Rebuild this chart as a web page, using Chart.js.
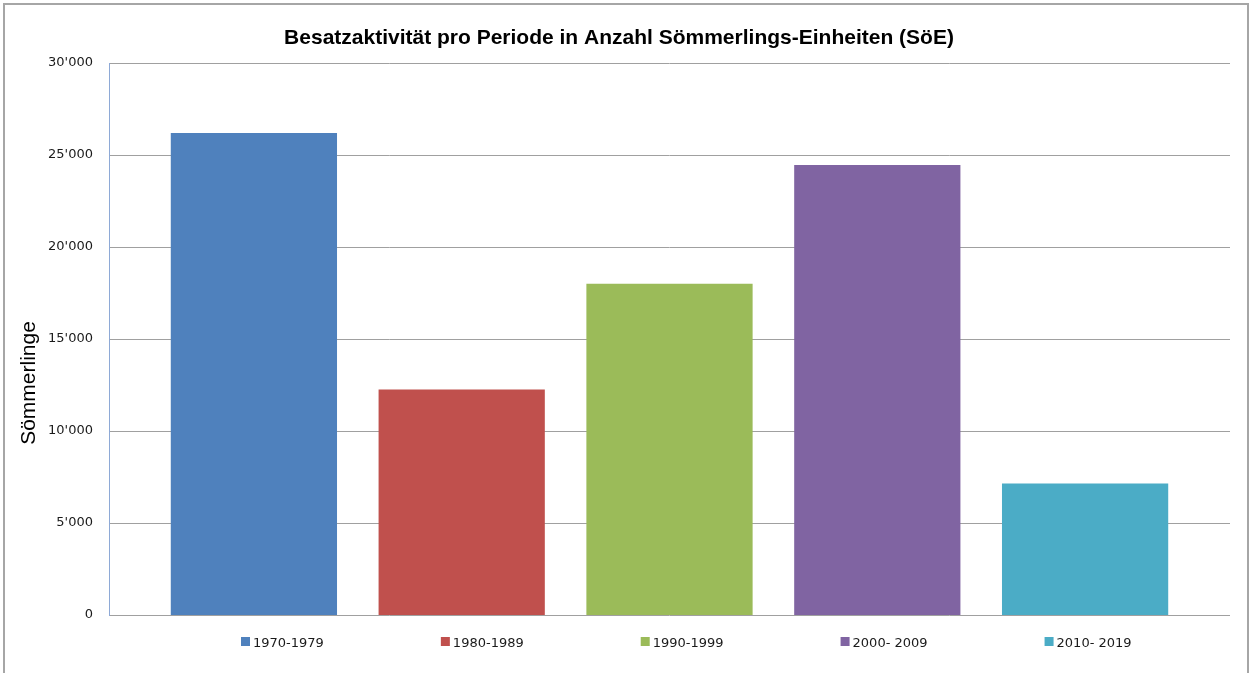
<!DOCTYPE html>
<html>
<head>
<meta charset="utf-8">
<script src="https://cdn.jsdelivr.net/npm/chart.js@4/dist/chart.umd.min.js"></script>
<style>
  html, body { margin: 0; padding: 0; background: #ffffff; }
  #wrap { position: relative; width: 1250px; height: 673px; }
  canvas { display: block; }
</style>
</head>
<body>
<div id="wrap"><canvas id="c" width="1250" height="673"></canvas></div>
<script>
// Periods and stocked juveniles (Sömmerlings-Einheiten)
const categories = ['1970-1979', '1980-1989', '1990-1999', '2000- 2009', '2010- 2019'];
const values = [26200, 12250, 18000, 24450, 7150];
const barColors = ['#4f81bd', '#c0504d', '#9bbb59', '#8064a2', '#4bacc6'];
const yMin = 0;
const yMax = 30000;
const yStep = 5000;

const titleText = 'Besatzaktivität pro Periode in Anzahl Sömmerlings-Einheiten (SöE)';
const yAxisTitle = 'Sömmerlinge';

// plot frame: gridlines run wider than the band the bars occupy
const gridLeft = 109;
const gridRight = 1230;

function fmtThousands(v) {
  return String(Math.round(v)).replace(/\B(?=(\d{3})+(?!\d))/g, "'");
}

// Frame, gridlines, title, rotated axis title and the period legend
const decorations = {
  id: 'decorations',
  beforeDraw(chart) {
    const ctx = chart.ctx;
    ctx.save();
    ctx.fillStyle = '#ffffff';
    ctx.fillRect(0, 0, chart.width, chart.height);
    ctx.strokeStyle = '#a6a6a6';
    ctx.lineWidth = 2;
    ctx.strokeRect(4, 4, 1244, 720);
    ctx.restore();
  },
  beforeDatasetsDraw(chart) {
    const ctx = chart.ctx;
    const y = chart.scales.y;
    ctx.save();
    ctx.lineWidth = 1;
    ctx.strokeStyle = '#a0a0a0';
    y.ticks.forEach(t => {
      const py = Math.round(y.getPixelForValue(t.value)) + 0.5;
      ctx.beginPath();
      ctx.moveTo(gridLeft, py);
      ctx.lineTo(gridRight, py);
      ctx.stroke();
    });
    // value axis line
    ctx.strokeStyle = '#8ea9d6';
    ctx.beginPath();
    ctx.moveTo(gridLeft + 0.5, Math.round(y.getPixelForValue(yMax)));
    ctx.lineTo(gridLeft + 0.5, Math.round(y.getPixelForValue(yMin)) + 1);
    ctx.stroke();
    ctx.restore();
  },
  afterDraw(chart) {
    const ctx = chart.ctx;
    ctx.save();
    // title
    ctx.fillStyle = '#000000';
    ctx.font = 'bold 21px "Liberation Sans", Arial, sans-serif';
    ctx.textAlign = 'center';
    ctx.textBaseline = 'alphabetic';
    ctx.fillText(titleText, 619, 44);

    // y axis title
    ctx.save();
    ctx.translate(35, 383);
    ctx.rotate(-Math.PI / 2);
    ctx.font = '21px "Liberation Sans", Arial, sans-serif';
    ctx.textAlign = 'center';
    ctx.fillText(yAxisTitle, 0, 0);
    ctx.restore();

    // legend row
    ctx.font = '13px "DejaVu Sans", sans-serif';
    ctx.textAlign = 'left';
    ctx.textBaseline = 'alphabetic';
    let x = 241;
    const boxTop = 637, box = 9, baseline = 647, gap = 117;
    categories.forEach((label, i) => {
      ctx.fillStyle = barColors[i];
      ctx.fillRect(x, boxTop, box, box);
      ctx.fillStyle = '#1a1a1a';
      ctx.fillText(label, x + box + 3, baseline);
      x += box + 3 + ctx.measureText(label).width + gap;
    });
    ctx.restore();
  }
};

new Chart(document.getElementById('c'), {
  type: 'bar',
  data: {
    labels: categories,
    datasets: [{
      data: values,
      backgroundColor: barColors,
      borderWidth: 0,
      barPercentage: 0.8,
      categoryPercentage: 1.0
    }]
  },
  options: {
    responsive: false,
    animation: false,
    devicePixelRatio: 1,
    layout: { padding: { left: 0, top: 63, right: 61, bottom: 58 } },
    plugins: {
      legend: { display: false },
      title: { display: false },
      tooltip: { enabled: false }
    },
    scales: {
      x: {
        grid: { display: false, drawTicks: false },
        border: { display: false },
        ticks: { display: false },
        afterFit(scale) {
          scale.height = 0;
          scale.paddingLeft = 0; scale.paddingRight = 0;
        }
      },
      y: {
        min: yMin,
        max: yMax,
        grid: { display: false, drawTicks: false },
        border: { display: false },
        ticks: {
          stepSize: yStep,
          padding: 57,
          color: '#1a1a1a',
          font: { family: '"DejaVu Sans", sans-serif', size: 13 },
          callback: (v) => fmtThousands(v)
        },
        afterFit(scale) {
          scale.width = 150;
          scale.paddingTop = 0; scale.paddingBottom = 0;
        }
      }
    }
  },
  plugins: [decorations]
});
</script>
</body>
</html>
